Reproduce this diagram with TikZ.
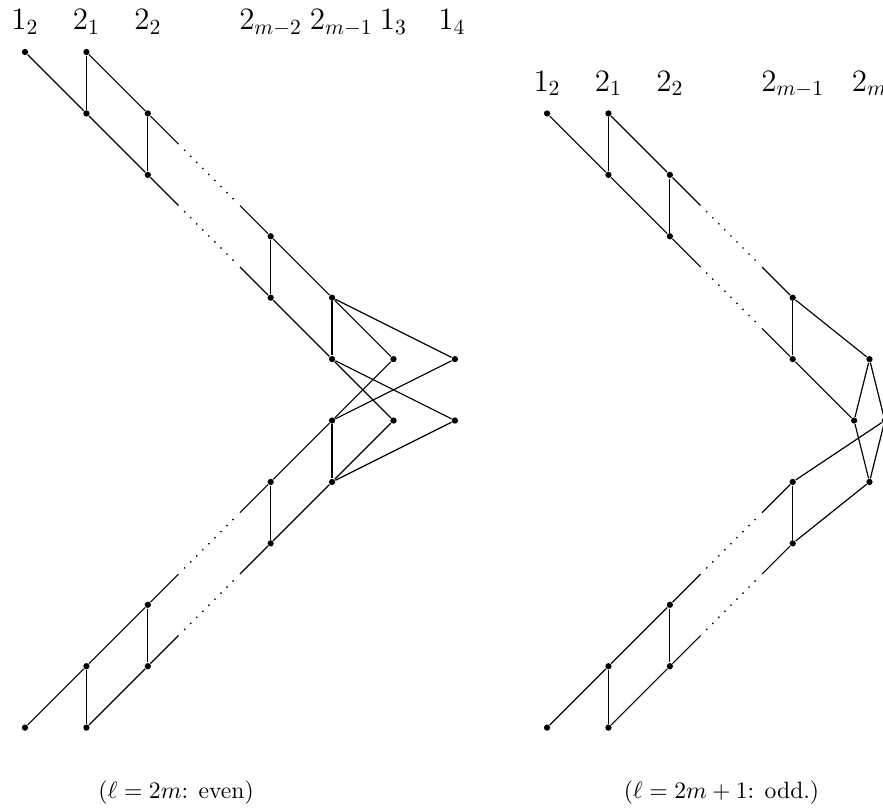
\documentclass[tikz,border=0pt,11pt]{standalone}
\usepackage{amsmath, amssymb}
\usepackage{tikz}
\usetikzlibrary{calc}

% 中间省略的边：实线-点线-实线
\newcommand{\brokenedge}[2]{%
  \draw (#1) -- ($(#1)!0.25!(#2)$);
  \draw[dotline] ($(#1)!0.3!(#2)$) -- ($(#1)!0.7!(#2)$);
  \draw ($(#1)!0.75!(#2)$) -- (#2);
}

\begin{document}
\begin{tikzpicture}[
    line width=0.55pt,
    pt/.style={circle, fill, inner sep=0pt, minimum size=2.9pt},
    lab/.style={anchor=base, font=\Large},
    dotline/.style={dash pattern=on 0pt off 3.96pt, line cap=round, line width=0.9pt}
]
    \useasboundingbox (-0.407,-12.345) rectangle (13.97,0.847);
    \clip (-0.407,-12.345) rectangle (13.97,0.847);

    % 偶数情形
    \def\h{0.36}
    \node[lab] (l12) at (0,\h) {$1_2$};
    \node[lab] (l21) at (1,\h) {$2_1$};
    \node[lab] (l22) at (2,\h) {$2_2$};
    \node[lab] (lk)  at (4,\h) {$2_{m-2}$};
    \node[lab] (ll)  at (5.15,\h) {$2_{m-1}$};
    \node[lab] (l13) at (6,\h) {$1_3$};
    \node[lab] (l14) at (6.95,\h) {$1_4$};

    \node[pt] (a12)  at (0,0) {};
    \node[pt] (a21t) at (1,0) {};
    \node[pt] (a21b) at (1,-1) {};
    \node[pt] (a22t) at (2,-1) {};
    \node[pt] (a22b) at (2,-2) {};
    \node[pt] (akt)  at (4,-3) {};
    \node[pt] (akb)  at (4,-4) {};
    \node[pt] (alt)  at (5,-4) {};
    \node[pt] (alb)  at (5,-5) {};
    \node[pt] (a13t) at (6,-5) {};
    \node[pt] (a13b) at (6,-6) {};
    \node[pt] (a14t) at (7,-5) {};
    \node[pt] (a14b) at (7,-6) {};

    \node[pt] (b12)  at (0,-11) {};
    \node[pt] (b21t) at (1,-10) {};
    \node[pt] (b21b) at (1,-11) {};
    \node[pt] (b22t) at (2,-9) {};
    \node[pt] (b22b) at (2,-10) {};
    \node[pt] (bkt)  at (4,-7) {};
    \node[pt] (bkb)  at (4,-8) {};
    \node[pt] (blt)  at (5,-6) {};
    \node[pt] (blb)  at (5,-7) {};

    \draw (a12) -- (a21b) -- (a22b);
    \brokenedge{a22b}{akb}
    \draw (akb) -- (alb) -- (a13b);
    \draw (alb) -- (a14b);
    \draw (a21t) -- (a22t);
    \brokenedge{a22t}{akt}
    \draw (akt) -- (alt) -- (a13t);
    \draw (alt) -- (a14t);
    \draw (a21t) -- (a21b) (a22t) -- (a22b) (akt) -- (akb) (alt) -- (alb);

    \draw (b12) -- (b21t) -- (b22t);
    \brokenedge{b22t}{bkt}
    \draw (bkt) -- (blt) -- (a13t);
    \draw (blt) -- (a14t);
    \draw (b21b) -- (b22b);
    \brokenedge{b22b}{bkb}
    \draw (bkb) -- (blb) -- (a13b);
    \draw (blb) -- (a14b);
    \draw (b21t) -- (b21b) (b22t) -- (b22b) (bkt) -- (bkb) (blt) -- (blb);

    \node[anchor=base] (capeven) at (2.46,-12.15) {($\ell=2m$: even)};

    % 奇数情形
    \begin{scope}[xshift=8.5cm]
    \node[lab] (r12) at (0,\h-1) {$1_2$};
    \node[lab] (r21) at (1,\h-1) {$2_1$};
    \node[lab] (r22) at (2,\h-1) {$2_2$};
    \node[lab] (rl)  at (4,\h-1) {$2_{m-1}$};
    \node[lab] (rm)  at (5.25,\h-1) {$2_m$};

    \node[pt] (c12)  at (0,-1) {};
    \node[pt] (c21t) at (1,-1) {};
    \node[pt] (c21b) at (1,-2) {};
    \node[pt] (c22t) at (2,-2) {};
    \node[pt] (c22b) at (2,-3) {};
    \node[pt] (ckt)  at (4,-4) {};
    \node[pt] (ckb)  at (4,-5) {};
    \node[pt] (mtop) at (5.25,-5) {};
    \node[pt] (mlft) at (5,-6) {};
    \node[pt] (mrgt) at (5.5,-6) {};
    \node[pt] (mbot) at (5.25,-7) {};

    \node[pt] (d12)  at (0,-11) {};
    \node[pt] (d21t) at (1,-10) {};
    \node[pt] (d21b) at (1,-11) {};
    \node[pt] (d22t) at (2,-9) {};
    \node[pt] (d22b) at (2,-10) {};
    \node[pt] (dkt)  at (4,-7) {};
    \node[pt] (dkb)  at (4,-8) {};

    \draw (c12) -- (c21b) -- (c22b);
    \brokenedge{c22b}{ckb}
    \draw (ckb) -- (mlft);
    \draw (c21t) -- (c22t);
    \brokenedge{c22t}{ckt}
    \draw (ckt) -- (mtop);
    \draw (c21t) -- (c21b) (c22t) -- (c22b) (ckt) -- (ckb);

    \draw (d12) -- (d21t) -- (d22t);
    \brokenedge{d22t}{dkt}
    \draw (dkt) -- (mrgt);
    \draw (d21b) -- (d22b);
    \brokenedge{d22b}{dkb}
    \draw (dkb) -- (mbot);
    \draw (d21t) -- (d21b) (d22t) -- (d22b) (dkt) -- (dkb);

    \draw (mtop) -- (mlft) -- (mbot) -- (mrgt) -- (mtop);
    \end{scope}

    \node[anchor=base] (capodd) at (11.34,-12.15) {($\ell=2m+1$: odd.)};
\end{tikzpicture}
\end{document}
